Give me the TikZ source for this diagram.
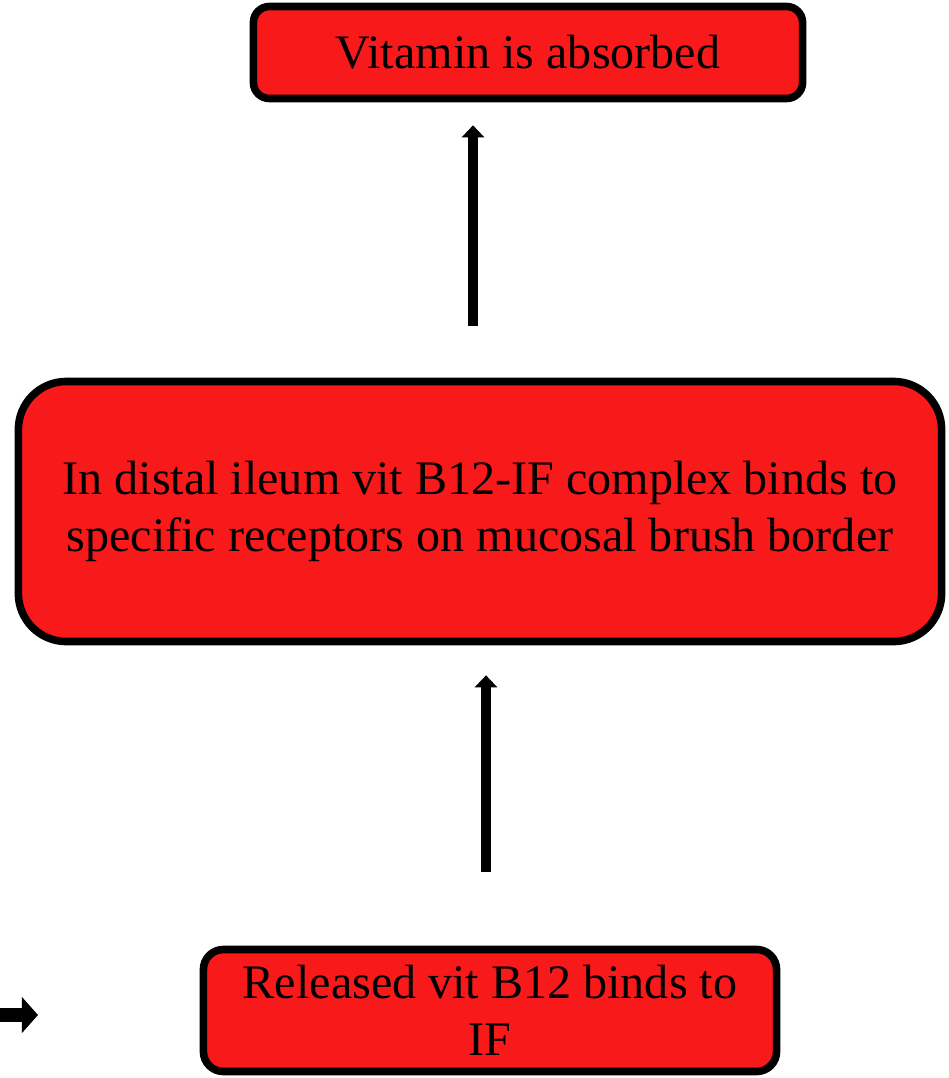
\documentclass[tikz,border=0pt]{standalone}
\usepackage{fontspec}
\setmainfont{Liberation Serif}
\usetikzlibrary{arrows.meta}
\definecolor{boxred}{RGB}{248,26,26}

\begin{document}
\begin{tikzpicture}[x=0.025cm,y=-0.025cm,
  stage/.style={draw=black,fill=boxred,line width=0.19cm,align=center,
    font=\fontsize{34.2}{40.5}\selectfont,inner sep=0pt},
  flow/.style={line width=0.25cm,-{Triangle[width=0.55cm,length=0.3cm]}}]
\useasboundingbox (0,0) rectangle (948,1078);
% the three steps
\node[stage,rounded corners=0.4cm,minimum width=13.725cm,minimum height=2.3cm] (absorbed) at (528,52.5) {Vitamin is absorbed};
\node[stage,rounded corners=1.2cm,minimum width=23.075cm,minimum height=6.5cm] (ileum) at (480,511.5) {In distal ileum vit B12-IF complex binds to\\specific receptors on mucosal brush border};
\node[stage,rounded corners=0.5cm,minimum width=14.325cm,minimum height=3.05cm] (released) at (490,1010.5) {Released vit B12 binds to\\IF};
% arrows
\draw[flow,shorten <=1.3cm,shorten >=0.575cm] (473,0 |- ileum.north) -- (473,0 |- absorbed.south);
\draw[flow,shorten <=1.84cm,shorten >=0.75cm] (486,0 |- released.north) -- (486,0 |- ileum.south);
\coordinate (incoming) at (0,1015);
\draw[line width=0.35cm,-{Triangle[width=0.875cm,length=0.4cm]}] (incoming) -- (38,1015);
\end{tikzpicture}
\end{document}
